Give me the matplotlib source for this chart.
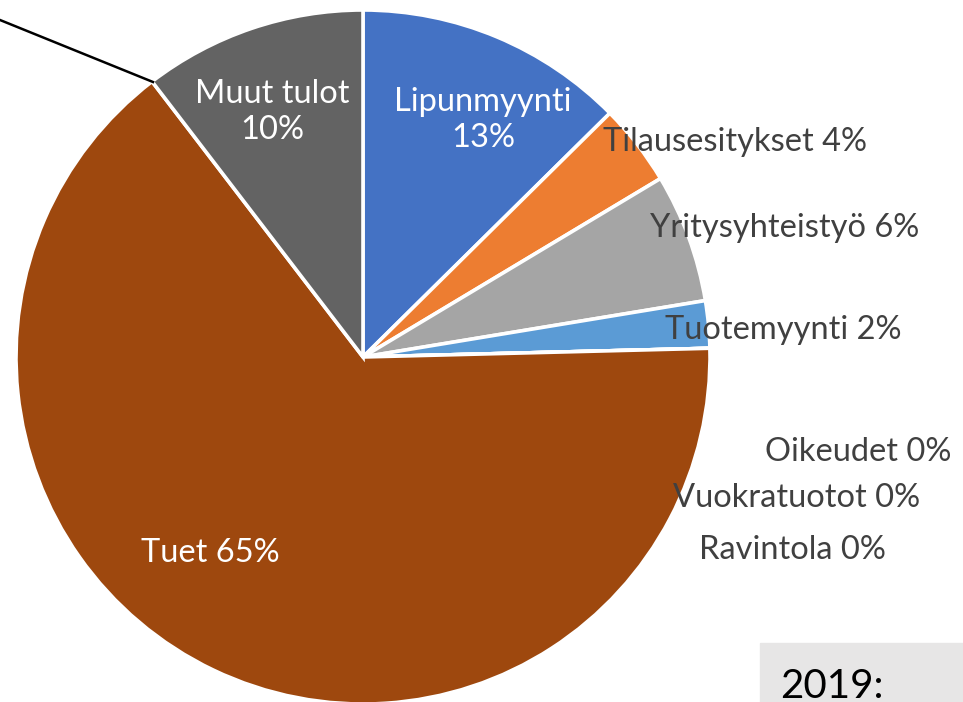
import matplotlib.pyplot as plt

# revenue shares 2019 (%), clockwise from 12 o'clock
categories = ["Lipunmyynti", "Tilausesitykset", "Yritysyhteistyö", "Tuotemyynti",
              "Oikeudet", "Vuokratuotot", "Ravintola", "Tuet", "Muut tulot"]
shares = [12.6, 3.8, 6.0, 2.2, 0.0, 0.0, 0.0, 65.0, 10.4]
colors = ["#4472C4", "#ED7D31", "#A5A5A5", "#5B9BD5",
          "#FFC000", "#70AD47", "#264478", "#9E480E", "#636363"]

plt.rcParams["font.family"] = ["Lato", "DejaVu Sans"]

W, H = 963, 702
fig = plt.figure(figsize=(W / 100, H / 100), dpi=100)
ax = fig.add_axes([0, 0, 1, 1])

cx, cy, r = 363, H - 357, 347
ax.pie(shares, colors=colors, startangle=90, counterclock=False,
       center=(cx, cy), radius=r, frame=True,
       wedgeprops=dict(edgecolor="white", linewidth=2.6))
ax.set_xlim(0, W)
ax.set_ylim(0, H)
ax.set_aspect("equal")
ax.axis("off")

# label placement (pixel coords from top-left), some on two lines
label_pos = {
    "Lipunmyynti": (483, 120, True),
    "Tilausesitykset": (735, 142, False),
    "Yritysyhteistyö": (785, 228, False),
    "Tuotemyynti": (783, 330, False),
    "Oikeudet": (858, 452, False),
    "Vuokratuotot": (797, 498, False),
    "Ravintola": (792, 550, False),
    "Tuet": (210, 553, False),
    "Muut tulot": (272, 112, True),
}
inside = {"Lipunmyynti", "Tuet", "Muut tulot"}
for name, val in zip(categories, shares):
    x, y, two_line = label_pos[name]
    sep = "\n" if two_line else " "
    txt = f"{name}{sep}{round(val)}%"
    ax.text(x, H - y, txt, ha="center", va="center", fontsize=23.5,
            color="white" if name in inside else "#404040",
            linespacing=1.25)

# leader line of a label outside the visible area
ax.plot([0, 153], [H - 20, H - 82], color="black", lw=1.8)

# year box
ax.add_patch(plt.Rectangle((760, 0), W - 760, H - 643, color="#E7E6E6"))
ax.text(780, H - 686, "2019:", ha="left", va="center", fontsize=29, color="black")

fig.savefig("out.png", dpi=100)
